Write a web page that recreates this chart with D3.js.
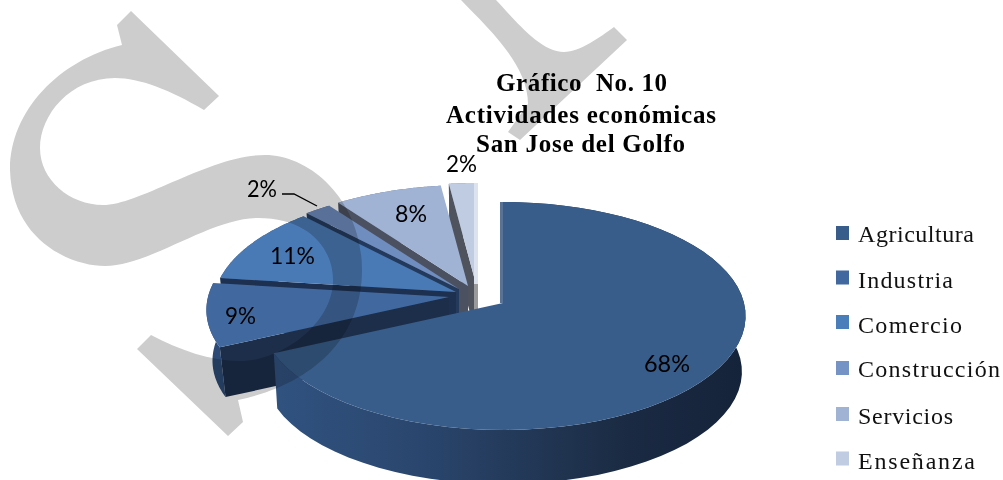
<!DOCTYPE html>
<html><head><meta charset="utf-8">
<script src="https://cdn.jsdelivr.net/npm/d3@7"></script>
<style>html,body{margin:0;padding:0;background:#fff;overflow:hidden}svg{display:block}</style>
</head><body><svg id="c" width="1003" height="480"></svg>
<script>
const categories=["Agricultura","Industria","Comercio","Construcción","Servicios","Enseñanza"];
const values=[68,9,11,2,8,2];
const valueLabels=["68%","9%","11%","2%","8%","2%"];
const titleLines=["Gráfico  No. 10","Actividades económicas","San Jose del Golfo"];

// styling and layout, kept apart from the values
const topColors=["#385d8a","#41699f","#4a7ab5","#6f8dbf","#a0b3d4","#bfcce2"];
const legendColors=["#385d8a","#41699f","#4a7ebb","#7593c4","#a0b3d4","#bfcce2"];
const cutColors=["#1d3050","#1c2e4a","#1d3050","#233a5c","#4b5160","#4f535d"];
const apexX=[503,449,456,459,468,476], apexY=[303,297,292,289,286,284];
const depths=[56,51,51,51,51,51], bottomScale=[.985,.975,.98,.98,.98,.98];
const labelX=[667,240.5,292.5,262,411,461.5], labelY=[363,315,255,188,213,163];
const labelW=[46,31,45,30,32,31];
const titleX=[496,446,476], titleW=[171,270,209], titleY=[91,123,152];
const legendY=[233,277.5,322,368,414,458.5], legendBase=[242,288,333,377,424,469], legendW=[116,95,104,142,95,117];
const RX=241, RY=112.5, K=0.114;

const svg=d3.select("#c");
const defs=svg.append("defs");
const wallStops=[[0,"#30527f"],[.3,"#2a466e"],[.55,"#223755"],[.75,"#1a2a42"],[1,"#15233a"]];
const grad=defs.append("linearGradient").attr("id","wall").attr("gradientUnits","userSpaceOnUse")
  .attr("x1",280).attr("x2",745).attr("y1",0).attr("y2",0);
wallStops.forEach(s=>grad.append("stop").attr("offset",s[0]).attr("stop-color",s[1]));

const arcs=d3.pie().sort(null).value(d=>d).startAngle(0).endAngle(2*Math.PI)(values);
const line=d3.line();
const project=(i,r,a)=>{
  const u=r*Math.sin(a), v=r*Math.cos(a), w=1+K*v;
  return [apexX[i]+RX*u/w, apexY[i]-RY*v/w];
};
const bot=(i,p)=>[apexX[i]+(p[0]-apexX[i])*bottomScale[i], apexY[i]+depths[i]+(p[1]-apexY[i])*bottomScale[i]];
const rim=(i,a0,a1)=>d3.range(0,61).map(k=>project(i,1,a0+(a1-a0)*k/60));

const pieG=svg.append("g");
[5,4,3,2,1,0].forEach(i=>{
  const a=arcs[i], edge=rim(i,a.startAngle,a.endAngle);
  const apex=[apexX[i],apexY[i]], apexB=bot(i,apex);
  // outer wall
  const wallColor=i===0?"url(#wall)":(i===1?"#2c4a75":d3.color(topColors[i]).darker(1.2).formatHex());
  pieG.append("path").attr("d",line(edge.concat(edge.slice().reverse().map(p=>bot(i,p))))+"Z").attr("fill",wallColor);
  // visible cut wall
  if(i>0){
    const c=edge[0];
    pieG.append("path").attr("d",line([apex,c,bot(i,c),apexB])+"Z").attr("fill",cutColors[i]);
  }
  // top face
  pieG.append("path").attr("d",line([apex].concat(edge))+"Z").attr("fill",topColors[i]);
  // edge-on walls along the vertical cuts
  if(i===5){
    pieG.append("path").attr("d",line([apex,apexB])).attr("stroke","#9a9a9a").attr("stroke-width",4).attr("fill","none");
    pieG.append("path").attr("d",line([edge[60],apex])).attr("stroke","#dde3ee").attr("stroke-width",4).attr("fill","none");
  }
  if(i===0){
    pieG.append("path").attr("d",line([[edge[0][0]-1.5,edge[0][1]],[apex[0]-1.5,apex[1]]])).attr("stroke","#587396").attr("stroke-width",3).attr("fill","none");
  }
});

// grey watermark
const wm=svg.append("g").attr("fill","#cdcdcd").style("mix-blend-mode","multiply");
wm.append("path").attr("d","M131,11 L117,25 L122,45 C60,60 10,110 10,170 C12,240 70,266 105,266 C150,266 210,218 258,218 C310,218 333,250 333,280 C333,325 280,361 240,361 C210,361 180,350 151,335 L137,349 L228,436 L243,422 L238,400 C310,385 362,340 362,270 C362,200 310,155 265,155 C210,155 140,205 103,205 C70,205 40,180 40,148 C40,115 70,78 115,78 C140,78 170,90 204,110 L219,96 Z");
wm.append("path").attr("d","M461,0 C490,30 528,65 528,104 L508,132 L520,140 L627,40 L614,27 C600,37 580,52 564,52 C540,52 515,20 496,0 Z");

// leader
svg.append("path").attr("d",line([[282,194],[294,194],[317,206]])).attr("fill","none").attr("stroke","#000").attr("stroke-width",1.3);

// value labels
svg.append("g").selectAll("text").data(valueLabels).join("text")
  .attr("x",(d,i)=>labelX[i]).attr("y",(d,i)=>labelY[i]).attr("text-anchor","middle").attr("dominant-baseline","central")
  .attr("font-family","Lato, 'Open Sans', sans-serif").attr("font-size",23).attr("fill","#000")
  .attr("textLength",(d,i)=>labelW[i]).attr("lengthAdjust","spacingAndGlyphs").text(d=>d);

// title
svg.append("g").selectAll("text").data(titleLines).join("text")
  .attr("x",(d,i)=>titleX[i]).attr("y",(d,i)=>titleY[i]).style("white-space","pre")
  .attr("font-family","'Liberation Serif', serif").attr("font-weight","bold").attr("font-size",25).attr("fill","#000")
  .attr("textLength",(d,i)=>titleW[i]).attr("lengthAdjust","spacing").text(d=>d);

// legend
const lg=svg.append("g");
lg.selectAll("rect").data(categories).join("rect")
  .attr("x",836).attr("y",(d,i)=>legendY[i]-7).attr("width",13).attr("height",14).attr("fill",(d,i)=>legendColors[i]);
lg.selectAll("text").data(categories).join("text")
  .attr("x",858).attr("y",(d,i)=>legendBase[i])
  .attr("font-family","'Liberation Serif', serif").attr("font-size",24).attr("fill","#111")
  .attr("textLength",(d,i)=>legendW[i]).attr("lengthAdjust","spacing").text(d=>d);
</script></body></html>
